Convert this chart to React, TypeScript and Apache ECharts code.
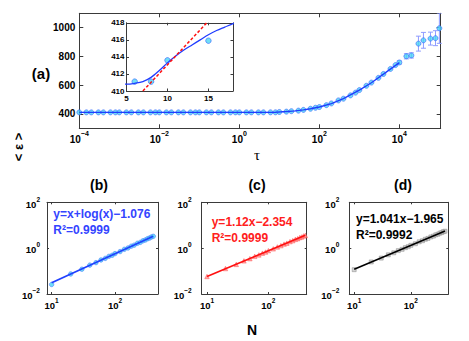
import React, { useEffect, useRef } from "react";
import * as echarts from "echarts";

// ---------- data ----------
const tau = [
  1e-4, 1.5e-4, 2e-4, 3e-4, 4e-4, 6e-4, 8e-4,
  1e-3, 1.5e-3, 2e-3, 3e-3, 4e-3, 6e-3, 8e-3,
  1e-2, 1.5e-2, 2e-2, 3e-2, 4e-2, 6e-2, 8e-2,
  0.1, 0.15, 0.2, 0.3, 0.4, 0.6, 0.8,
  1, 1.5, 2, 3, 4, 6, 8,
  10, 15, 20, 30, 40, 60, 80,
  100, 150, 200, 300, 400, 600, 800,
  1000, 1500, 2000, 3000, 4000, 6000, 8000,
  1e4, 1.5e4, 2e4, 3e4, 4e4, 6e4, 8e4, 1e5,
];
const energy = [
  410.8, 410.9, 410.7, 410.8, 410.8, 410.9, 410.7,
  410.8, 410.8, 410.9, 410.7, 410.8, 410.8, 410.9,
  410.8, 410.7, 410.8, 410.9, 410.8, 410.8, 410.7,
  410.8, 410.9, 410.8, 410.8, 410.7, 410.8, 410.9,
  410.8, 410.8, 410.9, 410.8, 410.9, 411.1, 411.1,
  413.6, 415.9, 419, 423, 428, 436, 443,
  448, 461, 473, 494, 506, 529, 548,
  566, 596, 618, 651, 678, 713, 740,
  758, 801, 807, 889, 912, 924, 927, 996,
];
// error bars for the last points (tau >= 1e4)
const errStart = 56;
const errSize = [12, 18, 18, 52, 55, 45, 52, 105];

// fitted curve (blue, panel a)
const fitTau = [1e-4, 1e-2, 1, 3, 5, 6, 7, 8, 9, 10, 11, 12, 13, 14, 15, 16, 17, 18, 25, 40, 60, 100, 200, 400, 1000, 2000, 4000, 1e4];
const fitE = [410.8, 410.8, 410.8, 410.8, 410.8, 410.9, 411.1, 411.6, 412.4, 413.3, 414.1, 414.8, 415.4, 416.0, 416.6, 417.1, 417.5, 417.9, 421, 428, 436, 448, 472, 506, 565, 617, 677, 757];
// red dashed line in the inset
const redTau = [7.0, 14.8];
const redE = [410, 418];

// bottom panels
const nVals = [10, 20, 30, 40, 50, 60, 70, 80, 90, 100, 120, 140, 160, 180, 200, 225, 250, 275, 300, 325, 350, 375, 400];
const bVals = [0.026, 0.075, 0.121, 0.182, 0.234, 0.305, 0.358, 0.44, 0.49, 0.58, 0.71, 0.89, 1.02, 1.22, 1.35, 1.63, 1.79, 2.09, 2.27, 2.58, 2.76, 3.09, 3.28];
const cVals = [0.058, 0.129, 0.196, 0.279, 0.349, 0.44, 0.508, 0.605, 0.676, 0.779, 0.935, 1.13, 1.29, 1.5, 1.65, 1.93, 2.13, 2.42, 2.6, 2.92, 3.1, 3.42, 3.6];
const dVals = [0.115, 0.25, 0.368, 0.512, 0.628, 0.78, 0.89, 1.05, 1.16, 1.33, 1.56, 1.89, 2.11, 2.44, 2.66, 3.08, 3.36, 3.8, 4.06, 4.53, 4.77, 5.25, 5.48];
const fitN = [10, 400];
const bFit = [0.031, 3.31];
const cFit = [0.0583, 3.63];
const dFit = [0.119, 5.54];

// tick labels
const tauTicks = [1e-4, 1e-2, 1, 1e2, 1e4];
const eTicks = [400, 600, 800, 1000];
const insetXTicks = [5, 10, 15];
const insetYTicks = [410, 412, 414, 416, 418];
const nTicks = [10, 100];
const yLogTicks = [0.01, 1, 100];

const eqB = ["y=x+log(x)\u22121.076", "R\u00b2=0.9999"];
const eqC = ["y=1.12x\u22122.354", "R\u00b2=0.9999"];
const eqD = ["y=1.041x\u22121.965", "R\u00b2=0.9992"];

// ---------- helpers ----------
const FONT = "'Liberation Sans', Arial, Helvetica, sans-serif";
const AX = "#3a3a3a";

function supLabel(v: number) {
  const e = Math.round(Math.log10(v));
  return "{b|10}{s|" + (e < 0 ? "\u2212" + Math.abs(e) : String(e)) + "}";
}
function rich(base: number, sup: number) {
  return {
    b: { fontSize: base, fontWeight: "bold", fontFamily: FONT, color: "#000", lineHeight: base + 4, verticalAlign: "bottom" },
    s: { fontSize: sup, fontWeight: "bold", fontFamily: FONT, color: "#000", lineHeight: sup - 2, verticalAlign: "top" },
  };
}

function axisPair(kind: "x" | "y", gridIndex: number, type: string, min: number, max: number, ticks: number[], tickLen: number, label: any) {
  const common: any = {
    gridIndex,
    type,
    min,
    max,
    splitLine: { show: false },
    minorTick: { show: false },
    minorSplitLine: { show: false },
    axisLine: { show: true, onZero: false, lineStyle: { color: AX, width: 1 } },
    axisTick: { show: true, inside: true, length: tickLen, customValues: ticks, lineStyle: { color: AX, width: 1 } },
  };
  if (type === "log") common.logBase = 10;
  const main = { ...common, position: kind === "x" ? "bottom" : "left", axisLabel: { ...label, customValues: ticks } };
  const mirror = { ...common, position: kind === "x" ? "top" : "right", axisLabel: { show: false } };
  return [main, mirror];
}

function plainLabel(size: number, margin: number) {
  return {
    show: true,
    fontSize: size,
    fontWeight: "bold",
    fontFamily: FONT,
    color: "#000",
    margin,
    formatter: (v: number) => String(v),
  };
}
function logLabel(base: number, sup: number, margin: number) {
  return { show: true, margin, formatter: supLabel, rich: rich(base, sup) };
}

function xy(xs: number[], ys: number[]) {
  return xs.map((x, i) => [x, ys[i]]);
}

export default function App() {
  const ref = useRef<HTMLDivElement>(null);

  useEffect(() => {
    if (!ref.current) return;
    const chart = echarts.init(ref.current, undefined, { renderer: "svg" });

    const grids = [
      { left: 79.3, top: 13.3, width: 361.4, height: 115 },
      { left: 126.5, top: 22.8, width: 106.5, height: 68.2, show: true, backgroundColor: "#fff", borderWidth: 0 },
      { left: 47, top: 202.3, width: 111, height: 91.7 },
      { left: 201.7, top: 202.3, width: 105, height: 91.7 },
      { left: 349.3, top: 202.3, width: 99, height: 91.7 },
    ].map((g: any) => ({ ...g, containLabel: false, outerBoundsMode: "none" }));

    const xAxis = [
      ...axisPair("x", 0, "log", 1e-4, 1.08e5, tauTicks, 4, logLabel(10, 7, 2)),
      ...axisPair("x", 1, "value", 5, 18, insetXTicks, 2.5, plainLabel(8, 3)),
      ...axisPair("x", 2, "log", 8.45, 475, nTicks, 2, logLabel(9.5, 6.5, 3)),
      ...axisPair("x", 3, "log", 8.2, 421, nTicks, 2, logLabel(9.5, 6.5, 3)),
      ...axisPair("x", 4, "log", 8.2, 457, nTicks, 2, logLabel(9.5, 6.5, 3)),
    ];
    const yAxis = [
      ...axisPair("y", 0, "value", 300, 1100, eTicks, 4, plainLabel(10, 4)),
      ...axisPair("y", 1, "value", 410, 418, insetYTicks, 2.5, plainLabel(8, 2)),
      ...axisPair("y", 2, "log", 0.01, 100, yLogTicks, 2, logLabel(9.5, 6.5, 7)),
      ...axisPair("y", 3, "log", 0.01, 100, yLogTicks, 2, logLabel(9.5, 6.5, 10)),
      ...axisPair("y", 4, "log", 0.01, 100, yLogTicks, 2, logLabel(9.5, 6.5, 10)),
    ];

    const errData = errSize.map((e, i) => [tau[errStart + i], energy[errStart + i] - e, energy[errStart + i] + e]);

    const series: any[] = [
      {
        type: "custom",
        xAxisIndex: 0,
        yAxisIndex: 0,
        clip: true,
        data: errData,
        renderItem: (params: any, api: any) => {
          const x = api.value(0);
          const lo = api.coord([x, api.value(1)]);
          const hi = api.coord([x, api.value(2)]);
          const cap = 2.5;
          const style = { stroke: "#8f9cff", lineWidth: 1 };
          return {
            type: "group",
            children: [
              { type: "line", shape: { x1: lo[0], y1: lo[1], x2: hi[0], y2: hi[1] }, style },
              { type: "line", shape: { x1: lo[0] - cap, y1: lo[1], x2: lo[0] + cap, y2: lo[1] }, style },
              { type: "line", shape: { x1: hi[0] - cap, y1: hi[1], x2: hi[0] + cap, y2: hi[1] }, style },
            ],
          };
        },
      },
      {
        type: "scatter",
        xAxisIndex: 0,
        yAxisIndex: 0,
        data: xy(tau, energy),
        symbol: "circle",
        symbolSize: 5,
        itemStyle: { color: "#4cd6f2", borderColor: "#3a66ff", borderWidth: 0.8 },
      },
      {
        type: "line",
        xAxisIndex: 0,
        yAxisIndex: 0,
        data: xy(fitTau, fitE),
        showSymbol: false,
        lineStyle: { color: "#1f3cff", width: 1.4 },
      },
      // inset
      {
        type: "scatter",
        xAxisIndex: 2,
        yAxisIndex: 2,
        data: xy(tau, energy),
        symbol: "circle",
        symbolSize: 5.5,
        clip: true,
        itemStyle: { color: "#4cd6f2", borderColor: "#3a66ff", borderWidth: 0.8 },
      },
      {
        type: "line",
        xAxisIndex: 2,
        yAxisIndex: 2,
        data: xy(fitTau, fitE),
        showSymbol: false,
        smooth: 0.3,
        clip: true,
        lineStyle: { color: "#1f3cff", width: 1.3 },
      },
      {
        type: "line",
        xAxisIndex: 2,
        yAxisIndex: 2,
        data: xy(redTau, redE),
        showSymbol: false,
        clip: true,
        lineStyle: { color: "#ff1010", width: 1.5, type: [3, 2] },
      },
      // (b)
      {
        type: "scatter",
        xAxisIndex: 4,
        yAxisIndex: 4,
        data: xy(nVals, bVals),
        symbol: "circle",
        symbolSize: 4.5,
        itemStyle: { color: "#4cd6f2", borderColor: "#3a66ff", borderWidth: 0.6 },
      },
      {
        type: "line",
        xAxisIndex: 4,
        yAxisIndex: 4,
        data: xy(fitN, bFit),
        showSymbol: false,
        lineStyle: { color: "#2040ff", width: 1.8 },
      },
      // (c)
      {
        type: "scatter",
        xAxisIndex: 6,
        yAxisIndex: 6,
        data: xy(nVals, cVals),
        symbol: "triangle",
        symbolSize: 4.5,
        itemStyle: { color: "#ff9090", borderColor: "#ff5050", borderWidth: 0.6 },
      },
      {
        type: "line",
        xAxisIndex: 6,
        yAxisIndex: 6,
        data: xy(fitN, cFit),
        showSymbol: false,
        lineStyle: { color: "#ff1010", width: 1.6 },
      },
      // (d)
      {
        type: "scatter",
        xAxisIndex: 8,
        yAxisIndex: 8,
        data: xy(nVals, dVals),
        symbol: "rect",
        symbolSize: 4,
        itemStyle: { color: "#c8c8c8", borderColor: "#808080", borderWidth: 0.6 },
      },
      {
        type: "line",
        xAxisIndex: 8,
        yAxisIndex: 8,
        data: xy(fitN, dFit),
        showSymbol: false,
        lineStyle: { color: "#000", width: 1.6 },
      },
    ];

    const txt = (x: number, y: number, text: string, extra: any = {}) => ({
      type: "text",
      x,
      y,
      z: 100,
      style: {
        text,
        fontFamily: FONT,
        fontWeight: "bold",
        fontSize: 13,
        fill: "#000",
        align: "center",
        verticalAlign: "middle",
        ...extra,
      },
    });

    const graphic = [
      txt(41, 73, "(a)", { fontSize: 15 }),
      txt(257, 155, "\u03c4", { fontSize: 15, fontWeight: "normal", fontFamily: "'Liberation Serif', 'DejaVu Serif', serif" }),
      { ...txt(18, 147, "< \u03b5 >", { fontSize: 13 }), rotation: Math.PI / 2 },
      txt(99, 185, "(b)", { fontSize: 14 }),
      txt(257, 185, "(c)", { fontSize: 14 }),
      txt(403, 185, "(d)", { fontSize: 14 }),
      txt(252, 330, "N", { fontSize: 14 }),
      txt(53.3, 214.3, eqB[0], { fontSize: 12, align: "left", fill: "#3344ff" }),
      txt(53.3, 230.3, eqB[1], { fontSize: 12, align: "left", fill: "#3344ff" }),
      txt(211.7, 222.3, eqC[0], { fontSize: 12, align: "left", fill: "#ff2020" }),
      txt(211.7, 238.3, eqC[1], { fontSize: 12, align: "left", fill: "#ff2020" }),
      txt(356, 219, eqD[0], { fontSize: 12, align: "left", fill: "#000" }),
      txt(356, 235, eqD[1], { fontSize: 12, align: "left", fill: "#000" }),
    ];

    chart.setOption({
      animation: false,
      backgroundColor: "#fff",
      grid: grids,
      xAxis,
      yAxis,
      series,
      graphic,
    });

    return () => chart.dispose();
  }, []);

  return (
    <div
      ref={ref}
      style={{ position: "fixed", left: 0, top: 0, width: 469, height: 341, background: "#fff" }}
    />
  );
}
